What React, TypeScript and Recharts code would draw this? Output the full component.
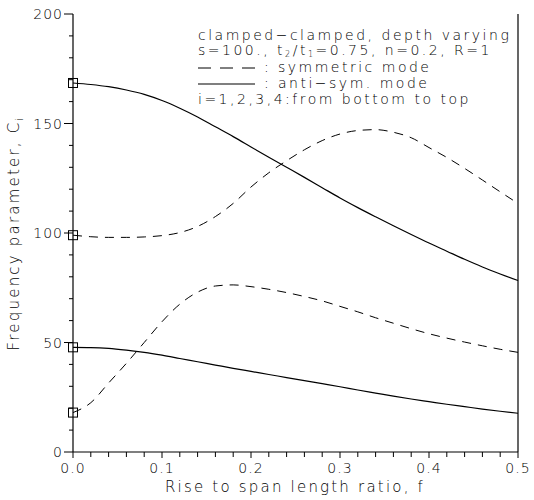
import React from 'react';
import { LineChart, Line, XAxis, YAxis, Customized } from 'recharts';

// ---- data ----
const fValues = [0, 0.02, 0.04, 0.06, 0.08, 0.1, 0.12, 0.14, 0.16, 0.18, 0.2, 0.22, 0.24, 0.26, 0.28, 0.3, 0.32, 0.34, 0.36, 0.38, 0.4, 0.42, 0.44, 0.46, 0.48, 0.5];
// i=1 symmetric (dashed, lowest at f=0)
const sym1 = [18, 22.5, 31.5, 40.5, 50, 59.5, 67.5, 73, 75.8, 76.3, 75.5, 74.3, 72.8, 71, 69, 66.5, 64, 61.3, 58.8, 56.3, 54, 52, 50.2, 48.5, 46.9, 45.5];
// i=2 anti-symmetric (solid, lower)
const anti1 = [47.8, 47.7, 47.3, 46.5, 45.5, 44.2, 42.7, 41.2, 39.7, 38.2, 36.8, 35.4, 34, 32.6, 31.2, 29.8, 28.3, 26.9, 25.5, 24.2, 23, 21.8, 20.7, 19.6, 18.6, 17.7];
// i=3 symmetric (dashed, upper)
const sym2 = [99, 98.3, 98, 98, 98.2, 98.8, 100.2, 103, 107.5, 113.5, 121, 127.5, 133, 138, 142.2, 145.2, 146.8, 147.2, 146, 143.5, 139, 134.5, 129.5, 124.2, 118.8, 113.5];
// i=4 anti-symmetric (solid, upper)
const anti2 = [168.5, 167.8, 166.8, 165.3, 163.3, 160.5, 157, 153, 148.5, 144, 139.3, 134.6, 130, 125.4, 120.7, 116, 111.6, 107.4, 103.3, 99.3, 95.4, 91.7, 88, 84.5, 81.3, 78.3];

const xTicks = [0, 0.02, 0.04, 0.06, 0.08, 0.1, 0.12, 0.14, 0.16, 0.18, 0.2, 0.22, 0.24, 0.26, 0.28, 0.3, 0.32, 0.34, 0.36, 0.38, 0.4, 0.42, 0.44, 0.46, 0.48, 0.5];
const yTicks = [0, 10, 20, 30, 40, 50, 60, 70, 80, 90, 100, 110, 120, 130, 140, 150, 160, 170, 180, 190, 200];

const annotationLines = [
  'clamped\u2212clamped, depth varying',
  'i=1,2,3,4:from bottom to top',
];
const legendLabels = ['symmetric mode', 'anti\u2212sym. mode'];

const xTitle = 'Rise to span length ratio, f';
const yTitle = 'Frequency parameter, C';

const data = fValues.map((f, i) => ({ f, sym1: sym1[i], anti1: anti1[i], sym2: sym2[i], anti2: anti2[i] }));

const FONT = '"DejaVu Sans", sans-serif';
const INK = '#000';

const isMajorX = (v: number) => Math.abs(v * 10 - Math.round(v * 10)) < 1e-6;
const isMajorY = (v: number) => v % 50 === 0;

const XTick = (props: any) => {
  const { x, y, payload } = props;
  const v = payload.value as number;
  const major = isMajorX(v);
  return (
    <g>
      <line x1={x} x2={x} y1={y} y2={y + (major ? 6 : 5)} stroke={INK} strokeWidth={1} />
      {major && (
        <text x={x} y={y + 21} textAnchor="middle" fontFamily={FONT} fontSize={14} fontWeight={200} letterSpacing={1} fill={INK}>
          {v.toFixed(1)}
        </text>
      )}
    </g>
  );
};

const YTick = (props: any) => {
  const { x, y, payload } = props;
  const v = payload.value as number;
  const major = isMajorY(v);
  return (
    <g>
      <line x1={x} x2={x - (major ? 9 : 4)} y1={y} y2={y} stroke={INK} strokeWidth={1} />
      {major && (
        <text x={x - 10} y={y + 5} textAnchor="end" fontFamily={FONT} fontSize={14} fontWeight={200} letterSpacing={1} fill={INK}>
          {v}
        </text>
      )}
    </g>
  );
};

const RTick = (props: any) => {
  const { x, y } = props;
  return <line x1={x} x2={x - 3} y1={y} y2={y} stroke={INK} strokeWidth={1} />;
};

const squareDot = (props: any) => {
  const { cx, cy, index } = props;
  if (index !== 0 || cx == null || cy == null) return <g key={`d${index}`} />;
  return <rect key={`d${index}`} x={cx - 4.5} y={cy - 4.5} width={9} height={9} fill="none" stroke={INK} strokeWidth={1} />;
};

const Annotation = () => {
  const tx = 198;
  const txt = { fontFamily: FONT, fontSize: 14, fontWeight: 200, letterSpacing: 2.5, fill: INK } as any;
  return (
    <g>
      <text x={tx} y={40} {...txt}>{annotationLines[0]}</text>
      <text x={tx} y={55} {...txt}>
        s=100., t<tspan fontSize={8} dy={2}>2</tspan><tspan dy={-2}>/t</tspan><tspan fontSize={8} dy={2}>1</tspan><tspan dy={-2}>=0.75, n=0.2, R=1</tspan>
      </text>
      <line x1={tx} x2={255} y1={68} y2={68} stroke={INK} strokeWidth={1} strokeDasharray="13 9" />
      <text x={264} y={72} {...txt}>:</text>
      <text x={278} y={72} {...txt}>{legendLabels[0]}</text>
      <line x1={tx} x2={255} y1={84} y2={84} stroke={INK} strokeWidth={1.2} />
      <text x={264} y={88} {...txt}>:</text>
      <text x={278} y={88} {...txt}>{legendLabels[1]}</text>
      <text x={tx} y={104} {...txt}>{annotationLines[1]}</text>
      <text x={295} y={492} textAnchor="middle" {...txt} fontSize={15} letterSpacing={2.2}>{xTitle}</text>
      <text x={19} y={233} textAnchor="middle" transform="rotate(-90 19 233)" {...txt} fontSize={15} letterSpacing={2.2}>
        {yTitle}<tspan fontSize={10} dy={4}>i</tspan>
      </text>
    </g>
  );
};

export default function App() {
  return (
    <div style={{ position: 'absolute', left: 0, top: 0, width: 534, height: 500, background: '#fff' }}>
      <LineChart width={534} height={500} data={data} margin={{ top: 14, right: 0, bottom: 0, left: 0 }}>
        <XAxis
          dataKey="f"
          type="number"
          domain={[0, 0.5]}
          ticks={xTicks}
          interval={0}
          tickSize={0}
          tickMargin={0}
          tick={<XTick />}
          tickLine={false}
          height={48}
          axisLine={{ stroke: INK, strokeWidth: 1.2 }}
        />
        <XAxis
          xAxisId="top"
          orientation="top"
          dataKey="f"
          type="number"
          domain={[0, 0.5]}
          height={0}
          tick={false}
          tickLine={false}
          axisLine={{ stroke: INK, strokeWidth: 1.2 }}
        />
        <YAxis
          type="number"
          domain={[0, 200]}
          ticks={yTicks}
          interval={0}
          tickSize={0}
          tickMargin={0}
          tick={<YTick />}
          tickLine={false}
          width={73}
          axisLine={{ stroke: INK, strokeWidth: 1.2 }}
        />
        <YAxis
          yAxisId="right"
          orientation="right"
          type="number"
          domain={[0, 200]}
          ticks={yTicks}
          interval={0}
          tickSize={0}
          tickMargin={0}
          tick={<RTick />}
          tickLine={false}
          width={16}
          axisLine={{ stroke: INK, strokeWidth: 1.2 }}
        />
        <Line dataKey="sym1" type="monotone" stroke={INK} strokeWidth={1} strokeDasharray="9 7" dot={squareDot} activeDot={false} isAnimationActive={false} />
        <Line dataKey="anti1" type="monotone" stroke={INK} strokeWidth={1.2} dot={squareDot} activeDot={false} isAnimationActive={false} />
        <Line dataKey="sym2" type="monotone" stroke={INK} strokeWidth={1} strokeDasharray="9 7" dot={squareDot} activeDot={false} isAnimationActive={false} />
        <Line dataKey="anti2" type="monotone" stroke={INK} strokeWidth={1.2} dot={squareDot} activeDot={false} isAnimationActive={false} />
        <Customized component={Annotation} />
      </LineChart>
    </div>
  );
}
